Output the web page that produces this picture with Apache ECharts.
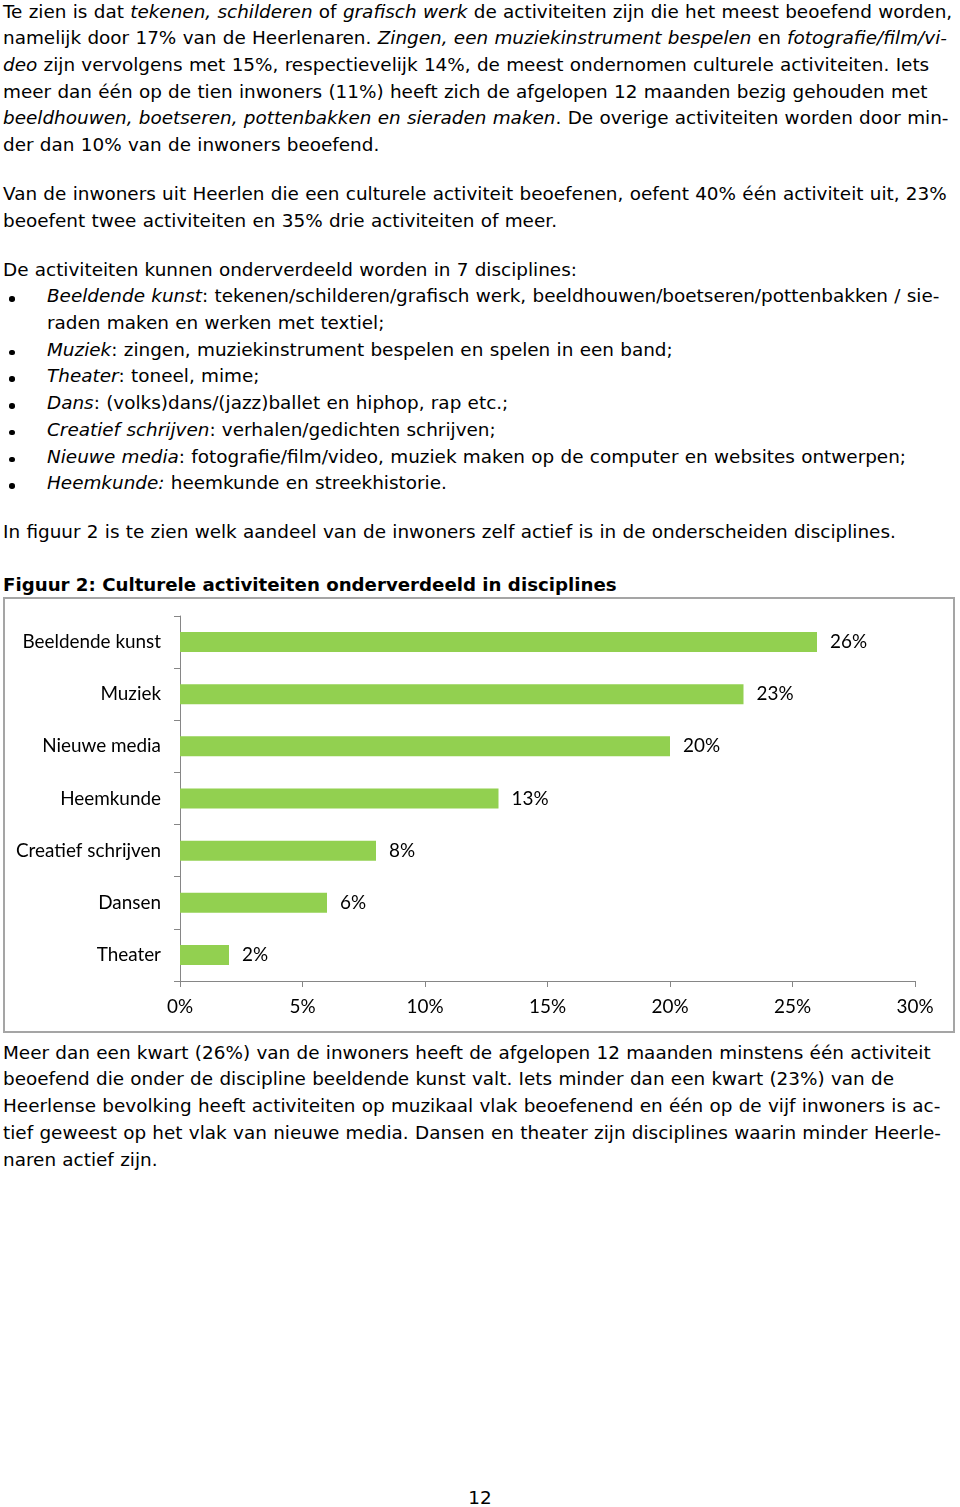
<!DOCTYPE html>
<html>
<head>
<meta charset="utf-8">
<script src="https://cdn.jsdelivr.net/npm/echarts@6/dist/echarts.min.js"></script>
<style>
  html, body { margin: 0; padding: 0; background: #fff; }
  body { width: 960px; height: 1507px; position: relative; overflow: hidden;
         font-family: "DejaVu Sans", Verdana, sans-serif; font-size: 18.4px; color: #000; }
  .blk { position: absolute; left: 3px; line-height: 26.68px; white-space: nowrap; word-spacing: 0.45px; }
  .blk div { white-space: nowrap; }
  .bul { position: relative; padding-left: 44px; }
  .bul::before { content: ""; position: absolute; left: 6px; top: 13px; width: 5.5px; height: 5.5px;
                 border-radius: 50%; background: #000; }
  .title { font-weight: bold; font-size: 18.2px; word-spacing: 0; }
  #frame { position: absolute; left: 3px; top: 597px; width: 952px; height: 436px;
           box-sizing: border-box; border: 2px solid #a5a5a5; }
  #chart { position: absolute; left: 0; top: 590px; width: 960px; height: 450px; }
</style>
</head>
<body>
<div class="blk" style="top:-1.4px">
  <div>Te zien is dat <i>tekenen, schilderen</i> of <i>grafisch werk</i> de activiteiten zijn die het meest beoefend worden,</div>
  <div>namelijk door 17% van de Heerlenaren. <i>Zingen, een muziekinstrument bespelen</i> en <i>fotografie/film/vi-</i></div>
  <div><i>deo</i> zijn vervolgens met 15%, respectievelijk 14%, de meest ondernomen culturele activiteiten. Iets</div>
  <div>meer dan één op de tien inwoners (11%) heeft zich de afgelopen 12 maanden bezig gehouden met</div>
  <div><i>beeldhouwen, boetseren, pottenbakken en sieraden maken</i>. De overige activiteiten worden door min-</div>
  <div>der dan 10% van de inwoners beoefend.</div>
</div>
<div class="blk" style="top:181px">
  <div>Van de inwoners uit Heerlen die een culturele activiteit beoefenen, oefent 40% één activiteit uit, 23%</div>
  <div>beoefent twee activiteiten en 35% drie activiteiten of meer.</div>
</div>
<div class="blk" style="top:256.7px">
  <div>De activiteiten kunnen onderverdeeld worden in 7 disciplines:</div>
  <div class="bul"><i>Beeldende kunst</i>: tekenen/schilderen/grafisch werk, beeldhouwen/boetseren/pottenbakken / sie-</div>
  <div style="padding-left:44px">raden maken en werken met textiel;</div>
  <div class="bul"><i>Muziek</i>: zingen, muziekinstrument bespelen en spelen in een band;</div>
  <div class="bul"><i>Theater</i>: toneel, mime;</div>
  <div class="bul"><i>Dans</i>: (volks)dans/(jazz)ballet en hiphop, rap etc.;</div>
  <div class="bul"><i>Creatief schrijven</i>: verhalen/gedichten schrijven;</div>
  <div class="bul"><i>Nieuwe media</i>: fotografie/film/video, muziek maken op de computer en websites ontwerpen;</div>
  <div class="bul"><i>Heemkunde:</i> heemkunde en streekhistorie.</div>
</div>
<div class="blk" style="top:519px">
  <div>In figuur 2 is te zien welk aandeel van de inwoners zelf actief is in de onderscheiden disciplines.</div>
</div>
<div class="blk title" style="top:571.5px">
  <div>Figuur 2: Culturele activiteiten onderverdeeld in disciplines</div>
</div>
<div id="frame"></div>
<div id="chart"></div>
<div class="blk" style="top:1039.8px">
  <div>Meer dan een kwart (26%) van de inwoners heeft de afgelopen 12 maanden minstens één activiteit</div>
  <div>beoefend die onder de discipline beeldende kunst valt. Iets minder dan een kwart (23%) van de</div>
  <div>Heerlense bevolking heeft activiteiten op muzikaal vlak beoefenend en één op de vijf inwoners is ac-</div>
  <div>tief geweest op het vlak van nieuwe media. Dansen en theater zijn disciplines waarin minder Heerle-</div>
  <div>naren actief zijn.</div>
</div>
<div class="blk" style="top:1485px; left:0; width:960px; text-align:center">12</div>

<script>
const categories = ["Beeldende kunst", "Muziek", "Nieuwe media", "Heemkunde", "Creatief schrijven", "Dansen", "Theater"];
const values = [26, 23, 20, 13, 8, 6, 2];
const xTicks = { min: 0, max: 30, interval: 5 };

const chart = echarts.init(document.getElementById('chart'), null, { renderer: 'canvas' });
const axisColor = '#868686';
const labelFont = { fontFamily: 'Lato, "Open Sans", sans-serif', fontSize: 18.9, color: '#000' };
chart.setOption({
  animation: false,
  backgroundColor: 'transparent',
  grid: { left: 180, right: 45, top: 26, bottom: 59, containLabel: false },
  xAxis: {
    type: 'value', min: xTicks.min, max: xTicks.max, interval: xTicks.interval,
    axisLine: { show: true, lineStyle: { color: axisColor, width: 1 } },
    axisTick: { show: true, length: 6, lineStyle: { color: axisColor } },
    splitLine: { show: false },
    axisLabel: Object.assign({ formatter: '{value}%', margin: 16 }, labelFont)
  },
  yAxis: {
    type: 'category', data: categories, inverse: true,
    axisLine: { show: true, lineStyle: { color: axisColor, width: 1 } },
    axisTick: { show: true, length: 6, lineStyle: { color: axisColor } },
    axisLabel: Object.assign({ margin: 19 }, labelFont)
  },
  series: [{
    type: 'bar', data: values, barWidth: 20,
    itemStyle: { color: '#92d050' },
    label: Object.assign({ show: true, position: 'right', distance: 13, formatter: '{c}%' }, labelFont)
  }]
});
</script>
</body>
</html>
